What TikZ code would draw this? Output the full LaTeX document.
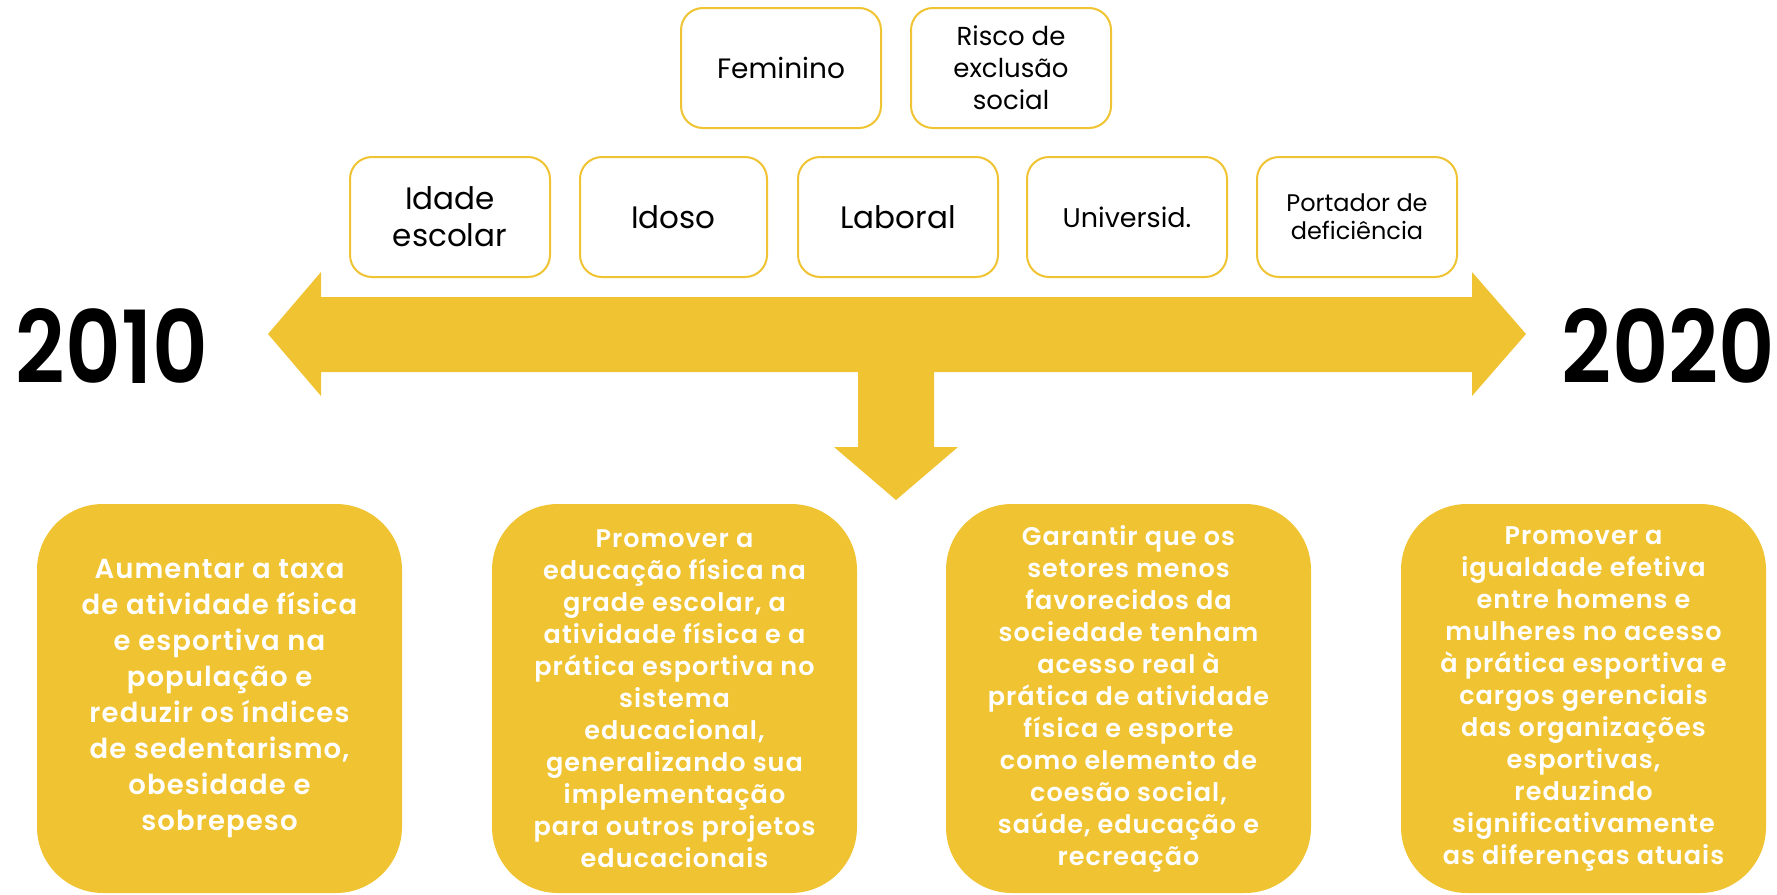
\documentclass[tikz,border=0pt]{standalone}
\usepackage{fontspec}
\setmainfont{Poppins}
\newfontfamily\semib{Poppins SemiBold}[LetterSpace=4]
\newfontfamily\semiy{Poppins SemiBold}
\usepackage{graphicx}
\definecolor{gold}{RGB}{240,195,50}
\begin{document}
\begin{tikzpicture}[x=1pt,y=-1pt,
  cat/.style={draw=gold, line width=2pt, rounded corners=22pt, fill=white, minimum width=200pt, minimum height=120pt, inner sep=0pt, align=center, text=black},
  goal/.style={fill=gold, rounded corners=66pt, minimum width=365pt, minimum height=389pt, inner sep=0pt, align=center, text=white},
  goaltext/.style={font=\semib\fontsize{25.5}{32}\selectfont},
  year/.style={inner sep=0pt, text=black}]
\useasboundingbox (0,0) rectangle (1777,894);

% timeline arrow
\fill[gold] (268,334) -- (321,272) -- (321,297) -- (1472,297) -- (1472,272) -- (1526,334)
  -- (1472,396) -- (1472,372) -- (321,372) -- (321,396) -- cycle;
% down arrow
\fill[gold] (858,370) -- (934,370) -- (934,447) -- (958,447) -- (896,500) -- (834,447) -- (858,447) -- cycle;

% years
\node[year] (y2010) at (112,345.5) {\resizebox{192pt}{75pt}{\semiy 2010}};
\node[year] (y2020) at (1668.5,345.5) {\resizebox{213pt}{75pt}{\semiy 2020}};

% category boxes
\node[cat, font=\fontsize{28}{35}\selectfont] (fem) at (781,68) {Feminino};
\node[cat, font=\fontsize{26}{32}\selectfont] (risco) at (1011,68) {Risco de\\exclusão\\social};
\node[cat, font=\fontsize{31}{37}\selectfont] (idade) at (450,217) {Idade\\escolar};
\node[cat, minimum width=187pt, font=\fontsize{31}{37}\selectfont] (idoso) at (673.5,217) {Idoso};
\node[cat, font=\fontsize{31}{37}\selectfont] (laboral) at (898,217) {Laboral};
\node[cat, font=\fontsize{27}{33}\selectfont] (univ) at (1127,217) {Universid.};
\node[cat, font=\fontsize{24}{28}\selectfont] (port) at (1357,217) {Portador de\\deficiência};

% goal boxes
\node[goal, font=\semib\fontsize{27.5}{36}\selectfont] (g1) at (219.5,698.5)
  {Aumentar a taxa\\de atividade física\\e esportiva na\\população e\\reduzir os índices\\de sedentarismo,\\obesidade e\\sobrepeso};
\node[goal, goaltext] (g2) at (674.5,698.5)
  {Promover a\\educação física na\\grade escolar, a\\atividade física e a\\prática esportiva no\\sistema\\educacional,\\generalizando sua\\implementação\\para outros projetos\\educacionais};
\node[goal, goaltext] (g3) at (1128.5,698.5)
  {Garantir que os\\setores menos\\favorecidos da\\sociedade tenham\\acesso real à\\prática de atividade\\física e esporte\\como elemento de\\coesão social,\\saúde, educação e\\recreação};
\node[goal, goaltext] (g4) at (1583.5,698.5)
  {Promover a\\igualdade efetiva\\entre homens e\\mulheres no acesso\\à prática esportiva e\\cargos gerenciais\\das organizações\\esportivas,\\reduzindo\\significativamente\\as diferenças atuais};
\end{tikzpicture}
\end{document}
